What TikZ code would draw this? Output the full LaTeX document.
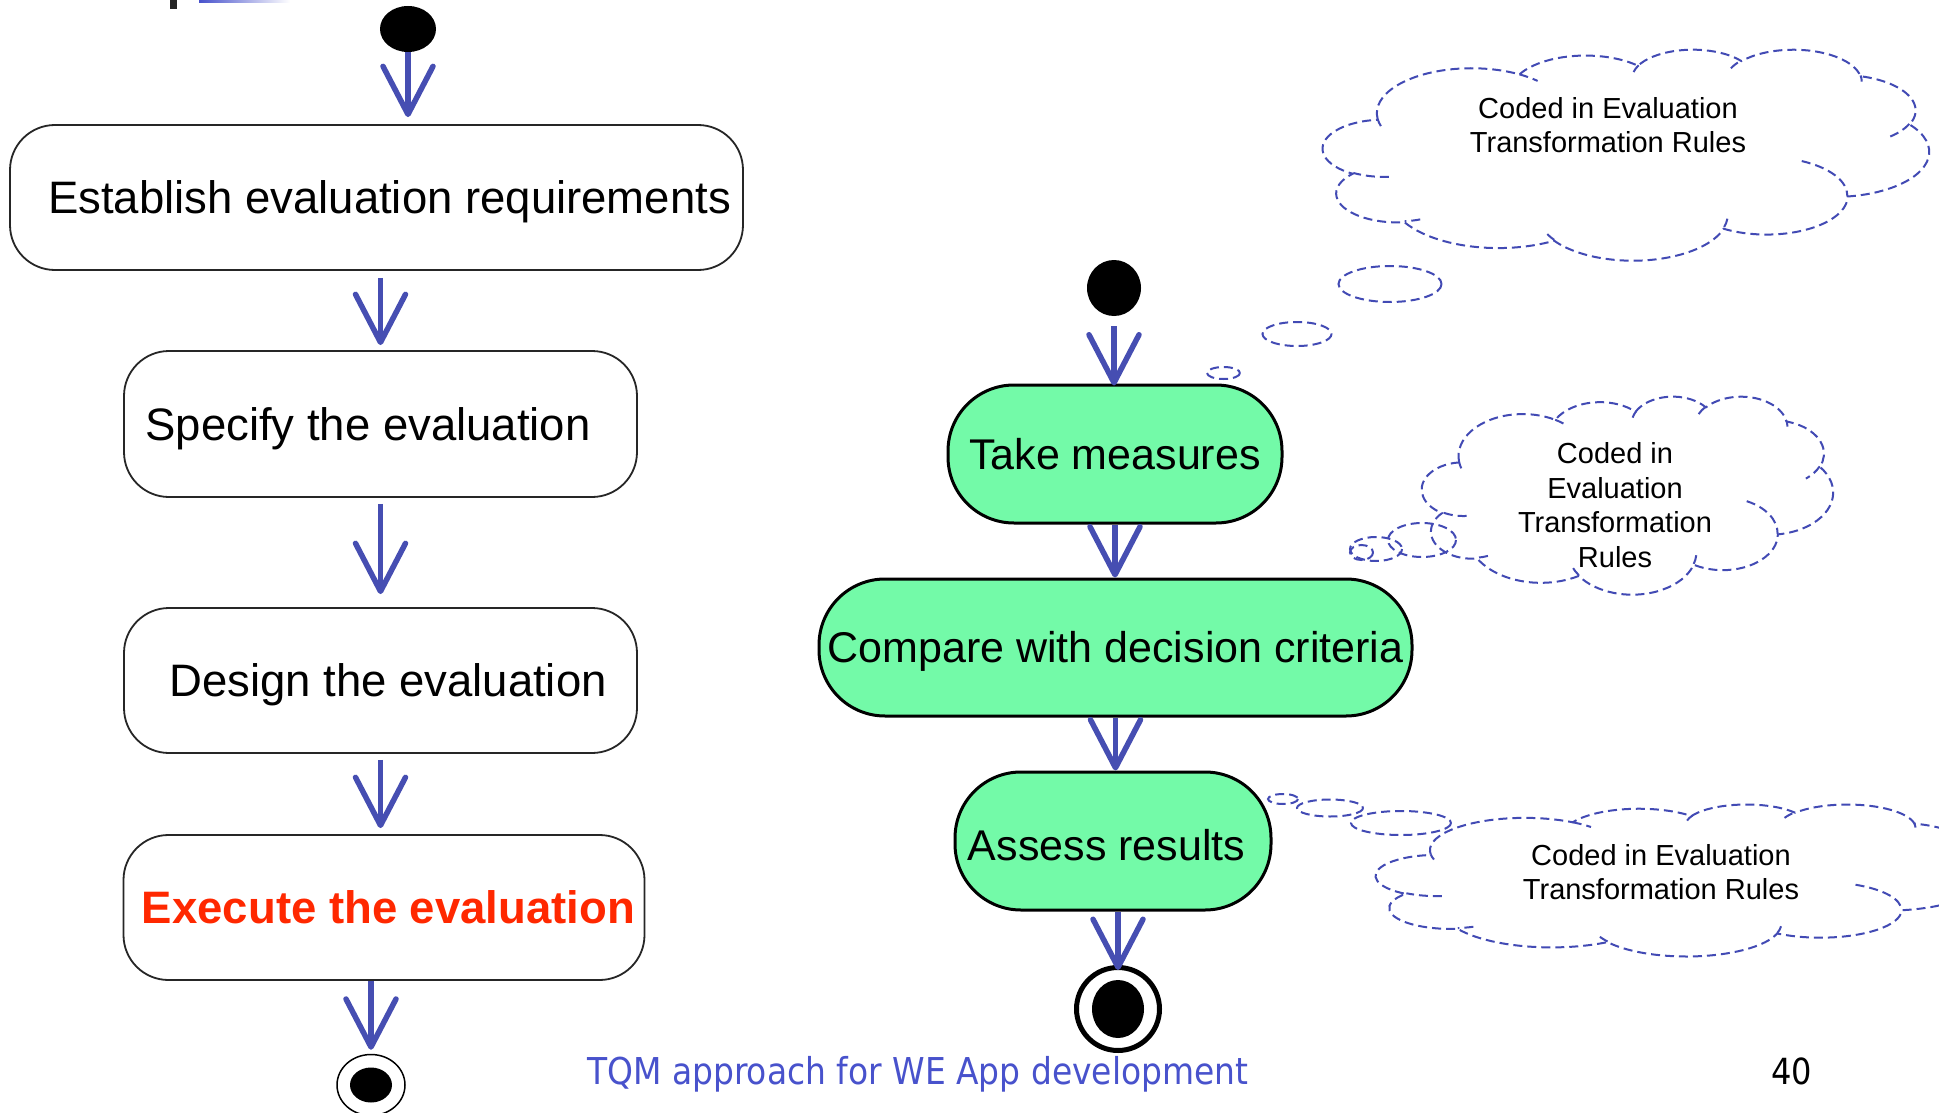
\documentclass[tikz,border=0pt]{standalone}
\usepackage{fontspec}
\setmainfont{Liberation Sans}
\newfontfamily\footfont[FakeStretch=0.89]{DejaVu Sans}
\usetikzlibrary{arrows.meta,shapes.geometric}

\definecolor{flowblue}{RGB}{70,78,178}
\definecolor{cloudblue}{RGB}{66,74,180}
\definecolor{stepgreen}{RGB}{115,250,168}
\definecolor{execred}{RGB}{255,40,0}
\definecolor{footblue}{RGB}{72,82,204}

% visual (ray) angle on an ellipse -> parametric angle, kept continuous
\pgfmathdeclarefunction{vis2par}{3}{%
  \begingroup
    \pgfmathsetmacro\vpA{atan2((#2)*sin(#1),(#3)*cos(#1))}%
    \pgfmathsetmacro\vpD{\vpA-(#1)}%
    \pgfmathparse{(#1)+\vpD-360*round(\vpD/360)}%
    \pgfmathsmuggle\pgfmathresult
  \endgroup}

% elliptical arc given by radii, start angle and sweep (visual angles)
\newcommand\ooarc[4]{%
  \pgfextra{%
    \pgfmathparse{vis2par(#3,#1,#2)}\xdef\ooSt{\pgfmathresult}%
    \pgfmathparse{vis2par((#3)+(#4),#1,#2)}\xdef\ooEn{\pgfmathresult}%
  }
  arc[x radius=#1, y radius=#2, start angle=\ooSt, end angle=\ooEn]}

% thought cloud in a 4320 x 4320 frame, placed at left/top with width/height
\newcommand\thoughtcloud[4]{%
  \begin{scope}[shift={(#1,#2)}, xscale=#3/4320, yscale=#4/4320]
    \draw[cloudline] (390,1437)
      \ooarc{675.3}{919.0}{-190.4875}{123.7805}
      \ooarc{533.3}{726.7}{-144.1024}{89.9452}
      \ooarc{436.5}{594.5}{-145.8079}{99.7230}
      \ooarc{485.7}{659.5}{-130.9861}{117.2417}
      \ooarc{533.3}{727.3}{-78.7089}{109.0269}
      \ooarc{677.5}{922.0}{-46.2673}{130.2690}
      \ooarc{578.5}{786.7}{0.6250}{114.0333}
      \ooarc{675.2}{921.5}{22.4516}{115.1726}
      \ooarc{772.0}{1054.3}{66.2426}{75.7110}
      \ooarc{436.0}{591.8}{-274.9421}{146.7356}
      \ooarc{434.5}{594.5}{-246.8285}{152.5189}
      -- cycle;
    \draw[cloudline]
      (469.3,2617.7) \ooarc{434.5}{594.5}{86.7420}{26.4295}
      (692.8,3489.9) \ooarc{436.0}{591.8}{73.6105}{11.4475}
      (1647.8,3909.0) \ooarc{675.2}{921.5}{137.6242}{14.0811}
      (2882.7,3475.1) \ooarc{675.2}{921.5}{6.4533}{15.9984}
      (3412.9,2295.4) \ooarc{578.5}{786.7}{-70.2924}{70.9174}
      (4179.8,1535.4) \ooarc{533.3}{727.3}{30.3180}{27.7515}
      (3832.4,542.6) \ooarc{485.7}{659.5}{-13.7443}{14.8589}
      (2907.8,395.2) \ooarc{485.7}{659.5}{-149.1815}{18.1954}
      (2214.1,472.0) \ooarc{436.5}{594.5}{-163.4943}{17.6864}
      (1400.0,519.2) \ooarc{675.3}{919.0}{-66.7070}{12.3194}
      (412.7,1578.9) \ooarc{675.3}{919.0}{157.6544}{11.8582};
  \end{scope}}

\tikzset{
  stepbox/.style={draw=black!85, line width=1.8pt, rounded corners=45pt, fill=white,
    inner sep=0pt, font=\fontsize{45.5}{50}\selectfont, text height=32.5pt, text depth=0pt},
  greenbox/.style={draw=black, line width=3pt, rounded corners=66pt, fill=stepgreen,
    inner sep=0pt, font=\fontsize{43}{48}\selectfont, text height=30.8pt, text depth=0pt},
  startdot/.style={ellipse, fill=black, inner sep=0pt},
  endring/.style={ellipse, draw=black, fill=white, inner sep=0pt},
  flow/.style={draw=flowblue, line width=5.5pt, -{Straight Barb[length=48pt,width=50pt,round]}},
  cloudline/.style={draw=cloudblue, line width=2pt, dash pattern=on 9pt off 5pt},
  cloudtext/.style={align=center, font=\fontsize{29}{34.5}\selectfont, inner sep=0pt},
}

\begin{document}
\begin{tikzpicture}[x=1pt, y=-1pt]
  \clip (0,0) rectangle (1939,1113);
  \fill[white] (0,0) rectangle (1939,1113);

  % remnant of the slide title bar
  \fill[black!85] (170,0) rectangle (177,9);
  \shade[left color=footblue, right color=white] (199,0) rectangle (290,2.5);

  % ---- left activity flow
  \node[startdot, minimum width=56pt, minimum height=46pt] (s1) at (408,29) {};
  \node[stepbox, minimum width=733pt, minimum height=145pt] (b1) at (376.5,197.5)
    {\hspace*{26pt}Establish evaluation requirements};
  \node[stepbox, minimum width=513pt, minimum height=146pt] (b2) at (380.5,424)
    {Specify the evaluation\hspace*{25pt}};
  \node[stepbox, minimum width=513pt, minimum height=145pt] (b3) at (380.5,680.5)
    {\hspace*{15pt}Design the evaluation};
  \node[stepbox, minimum width=521pt, minimum height=145pt, text=execred] (b4) at (384,907.5)
    {\hspace*{9pt}\textbf{Execute the evaluation}};
  \node[endring, line width=1.5pt, minimum width=68pt, minimum height=61pt] (e1) at (371,1085) {};
  \fill (e1.center) ellipse [x radius=21, y radius=17.5];

  \draw[flow, shorten >=7pt] (s1.south) -- (s1.south |- b1.north);
  \draw[flow, shorten <=7pt, shorten >=5pt] (b2.north |- b1.south) -- (b2.north);
  \draw[flow, shorten <=6pt, shorten >=13pt] (b2.south) -- (b3.north);
  \draw[flow, shorten <=6pt, shorten >=6pt] (b3.south) -- (b3.south |- b4.north);
  \draw[flow, shorten >=4pt] (e1.north |- b4.south) -- (e1.north);

  % ---- right activity flow
  \node[startdot, minimum width=54pt, minimum height=56pt] (s2) at (1114,288) {};
  \node[greenbox, minimum width=334pt, minimum height=138pt] (t1) at (1115,454) {Take measures};
  \node[greenbox, minimum width=593pt, minimum height=137pt] (c1) at (1115.5,647.5)
    {Compare with decision criteria};
  \node[greenbox, minimum width=316pt, minimum height=138pt, text height=38.8pt] (a1) at (1113,841)
    {Assess results\hspace*{13pt}};
  \node[endring, line width=5pt, minimum width=83pt, minimum height=83pt] (e2) at (1118,1009) {};
  \fill (e2.center) ellipse [x radius=26, y radius=29];

  \draw[flow, shorten <=10pt, shorten >=-2pt] (s2.south) -- (s2.south |- t1.north);
  \draw[flow] (t1.south) -- (t1.south |- c1.north);
  \draw[flow] (c1.south) -- (c1.south |- a1.north);
  \draw[flow, shorten >=-5pt] (e2.north |- a1.south) -- (e2.north);

  % ---- thought clouds
  \thoughtcloud{1323}{49}{606}{211}
  \draw[cloudline] (1390,284) ellipse [x radius=51.5, y radius=18];
  \draw[cloudline] (1297,334) ellipse [x radius=34.5, y radius=12];
  \draw[cloudline] (1223.5,373) ellipse [x radius=16.5, y radius=6];
  \node[cloudtext] (n1) at (1608,125) {Coded in Evaluation\\Transformation Rules};

  \thoughtcloud{1422}{396}{411}{198}
  \draw[cloudline] (1422,540) ellipse [x radius=34, y radius=17];
  \draw[cloudline] (1376,549) ellipse [x radius=26, y radius=12];
  \draw[cloudline] (1361.5,552.5) ellipse [x radius=11.5, y radius=7.5];
  \node[cloudtext] (n2) at (1615,505) {Coded in\\Evaluation\\Transformation\\Rules};

  \thoughtcloud{1376}{804}{607}{152}
  \draw[cloudline] (1283,799) ellipse [x radius=15, y radius=5];
  \draw[cloudline] (1330,808) ellipse [x radius=33, y radius=8.5];
  \draw[cloudline] (1401,823) ellipse [x radius=50, y radius=12];
  \node[cloudtext] (n3) at (1661,872) {Coded in Evaluation\\Transformation Rules};

  % ---- footer
  \node[anchor=base west, inner sep=0pt, text=footblue,
        font=\footfont\fontsize{37}{40}\selectfont] (foot) at (587,1084)
    {TQM approach for WE App development};
  \node[anchor=base east, inner sep=0pt,
        font=\footfont\fontsize{36}{40}\selectfont] (pg) at (1812,1084) {40};
\end{tikzpicture}
\end{document}
